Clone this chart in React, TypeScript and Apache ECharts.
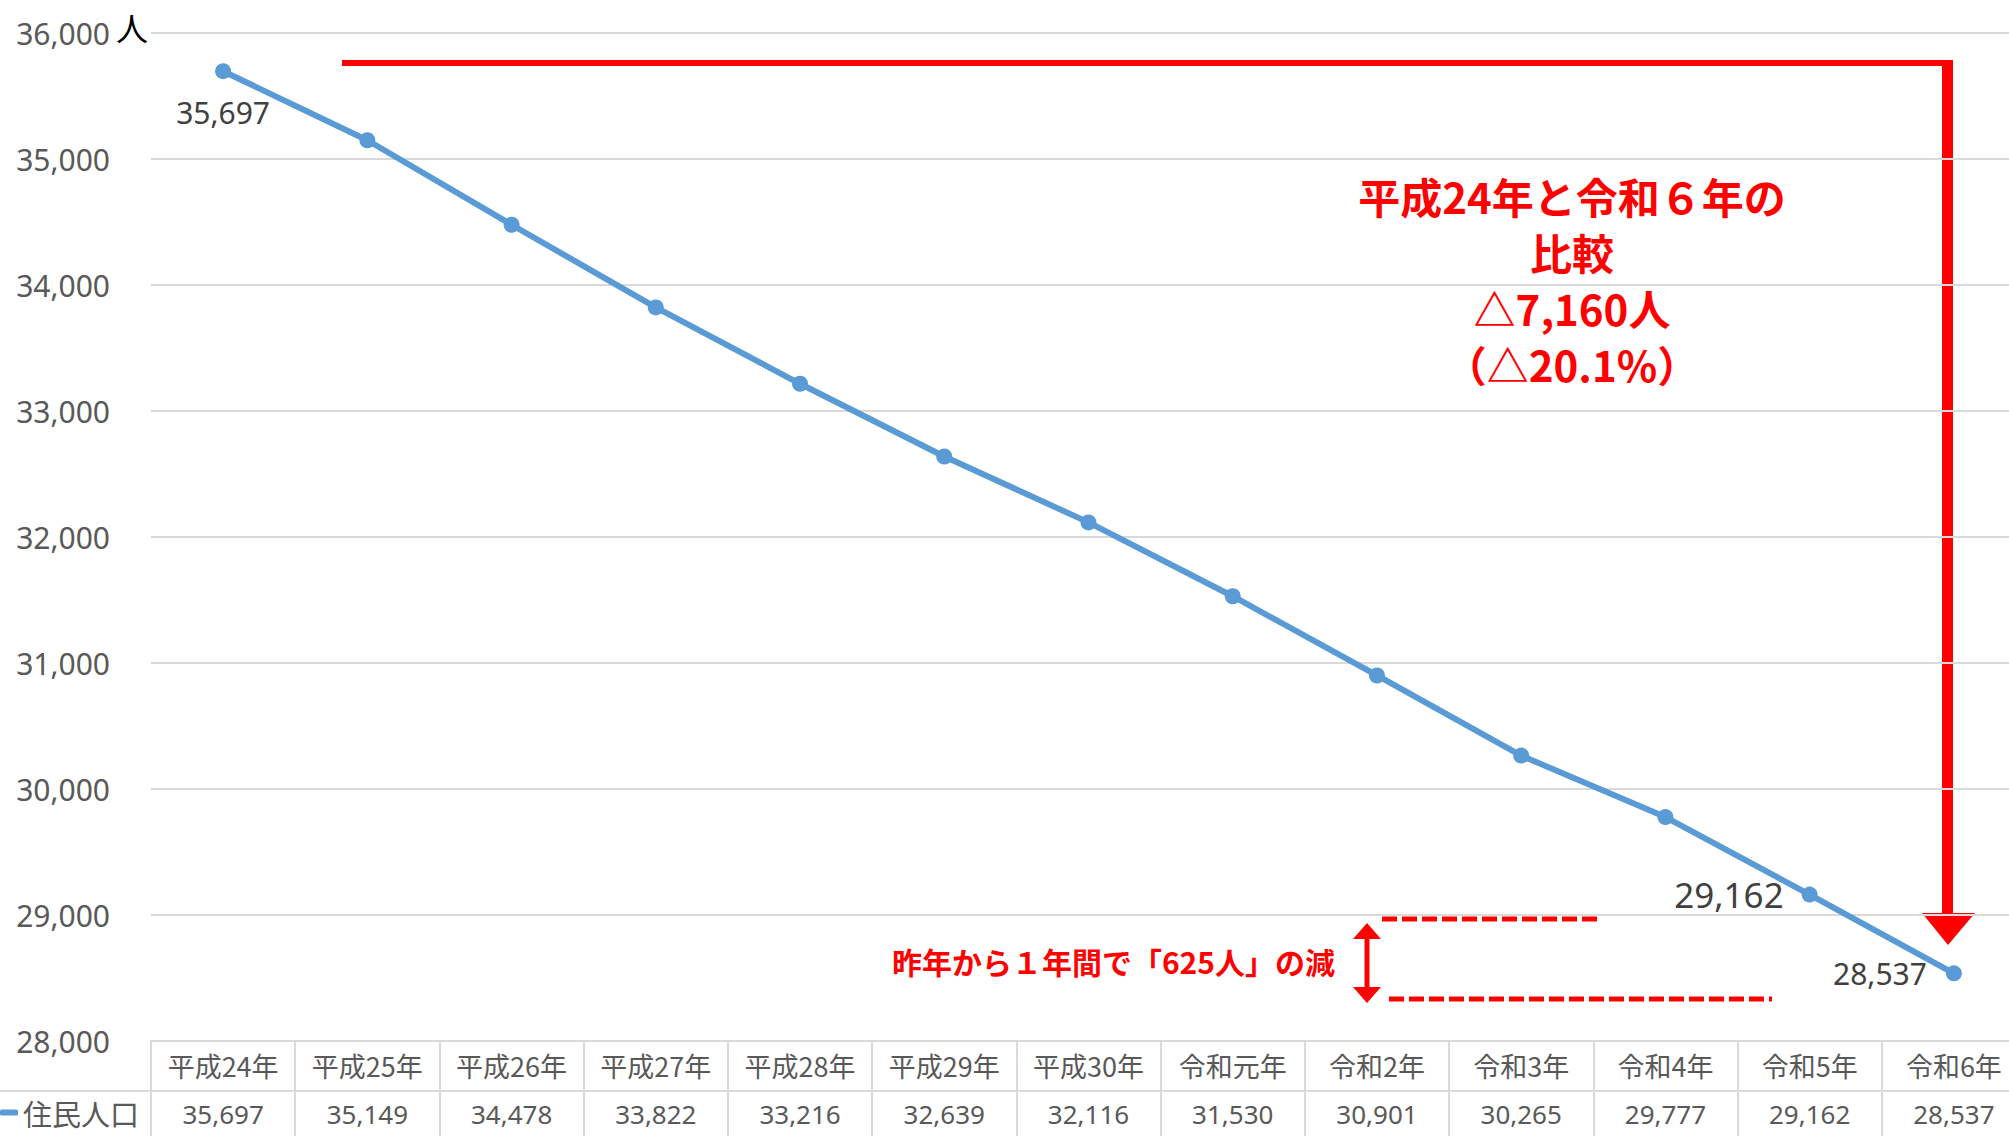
import React, { useEffect, useRef } from "react";
import * as echarts from "echarts";

const categories = [
  "平成24年", "平成25年", "平成26年", "平成27年", "平成28年", "平成29年", "平成30年",
  "令和元年", "令和2年", "令和3年", "令和4年", "令和5年", "令和6年",
];
const population = [35697, 35149, 34478, 33822, 33216, 32639, 32116, 31530, 30901, 30265, 29777, 29162, 28537];
const seriesName = "住民人口";
const yMin = 28000;
const yMax = 36000;
const yInterval = 1000;
const yUnit = "人";
const compareText = "平成24年と令和６年の\n比較\n△7,160人\n（△20.1%）";
const yearText = "昨年から１年間で「625人」の減";

const fmt = (n: number) => n.toLocaleString("en-US");
const LATIN = "'Noto Sans', 'Noto Sans CJK JP', sans-serif";
const CJK = "'Noto Sans CJK JP', 'Noto Sans', sans-serif";
const RED = "#ff0000";
const GRID = "#d9d9d9";

export default function App() {
  const ref = useRef<HTMLDivElement>(null);
  useEffect(() => {
    if (!ref.current) return;
    const chart = echarts.init(ref.current, undefined, { renderer: "svg" });
    const labelFor = (i: number) => {
      if (i === 0) return { show: true, position: "bottom", distance: 18, fontSize: 30, color: "#404040", fontFamily: LATIN };
      if (i === population.length - 2) return { show: true, position: "left", distance: 18, fontSize: 35, color: "#404040", fontFamily: LATIN };
      if (i === population.length - 1) return { show: true, position: "left", distance: 19, fontSize: 30, color: "#404040", fontFamily: LATIN };
      return { show: false };
    };
    const data = population.map((v, i) => ({
      value: v,
      label: { ...labelFor(i), formatter: (p: any) => fmt(p.value) },
    }));
    chart.setOption({
      animation: false,
      backgroundColor: "#ffffff",
      grid: { left: 151, top: 33, width: 1875, height: 1008, containLabel: false },
      legend: {
        show: true,
        left: 0,
        top: 1098,
        padding: 0,
        icon: "roundRect",
        itemWidth: 18,
        itemHeight: 6,
        data: [seriesName],
        textStyle: { fontSize: 29, color: "#595959", fontFamily: CJK },
      },
      xAxis: [
        {
          type: "category",
          data: categories,
          boundaryGap: true,
          position: "bottom",
          axisLine: { show: true, lineStyle: { color: GRID, width: 2 } },
          axisTick: { show: true, interval: 0, length: 100, lineStyle: { color: GRID, width: 2 } },
          axisLabel: { interval: 0, margin: 11, fontSize: 27, color: "#595959", fontFamily: CJK },
          splitLine: { show: false },
        },
        {
          type: "category",
          data: population.map(fmt),
          boundaryGap: true,
          position: "bottom",
          offset: 50,
          axisLine: { show: true, lineStyle: { color: GRID, width: 2 } },
          axisTick: { show: false },
          axisLabel: { interval: 0, margin: 10, fontSize: 26, color: "#595959", fontFamily: LATIN },
          splitLine: { show: false },
        },
      ],
      yAxis: {
        type: "value",
        min: yMin,
        max: yMax,
        interval: yInterval,
        axisLine: { show: false },
        axisTick: { show: false },
        axisLabel: { margin: 41, fontSize: 30, color: "#595959", fontFamily: LATIN, formatter: (v: number) => fmt(v) },
        splitLine: { show: true, lineStyle: { color: GRID, width: 2 } },
      },
      series: [
        {
          name: seriesName,
          type: "line",
          xAxisIndex: 0,
          data,
          color: "#5b9bd5",
          lineStyle: { color: "#5b9bd5", width: 6 },
          itemStyle: { color: "#5b9bd5" },
          symbol: "circle",
          symbolSize: 16,
          z: 3,
        },
      ],
      graphic: [
        { type: "text", x: 116, y: 27, style: { text: yUnit, fontSize: 32, fill: "#000000", fontFamily: CJK, align: "left", verticalAlign: "middle" } },
        { type: "line", shape: { x1: 0, y1: 1091, x2: 151, y2: 1091 }, style: { stroke: GRID, lineWidth: 2 } },
        { type: "line", shape: { x1: 342, y1: 63, x2: 1953, y2: 63 }, style: { stroke: RED, lineWidth: 6 } },
        { type: "rect", shape: { x: 1942, y: 60, width: 11, height: 854 }, style: { fill: RED } },
        { type: "polygon", shape: { points: [[1922, 913], [1975, 913], [1948, 945]] }, style: { fill: RED } },
        {
          type: "text",
          x: 1572,
          y: 279,
          style: {
            text: compareText,
            fontSize: 42,
            fontWeight: "bold",
            lineHeight: 56,
            fill: RED,
            fontFamily: CJK,
            align: "center",
            verticalAlign: "middle",
          },
        },
        {
          type: "text",
          x: 1335,
          y: 961,
          style: { text: yearText, fontSize: 30, fontWeight: "bold", fill: RED, fontFamily: CJK, align: "right", verticalAlign: "middle" },
        },
        { type: "rect", shape: { x: 1364.5, y: 937, width: 5, height: 52 }, style: { fill: RED } },
        { type: "polygon", shape: { points: [[1367, 923], [1353, 939], [1381, 939]] }, style: { fill: RED } },
        { type: "polygon", shape: { points: [[1367, 1003], [1353, 987], [1381, 987]] }, style: { fill: RED } },
        { type: "line", shape: { x1: 1382, y1: 919, x2: 1597, y2: 919 }, style: { stroke: RED, lineWidth: 5, lineDash: [15, 5] } },
        { type: "line", shape: { x1: 1389, y1: 999, x2: 1772, y2: 999 }, style: { stroke: RED, lineWidth: 5, lineDash: [15, 5] } },
      ],
    });
    return () => chart.dispose();
  }, []);
  return (
    <div style={{ position: "fixed", left: 0, top: 0, width: 2009, height: 1136, overflow: "hidden" }}>
      <div ref={ref} style={{ position: "absolute", left: 0, top: 0, width: 2040, height: 1136 }} />
    </div>
  );
}
